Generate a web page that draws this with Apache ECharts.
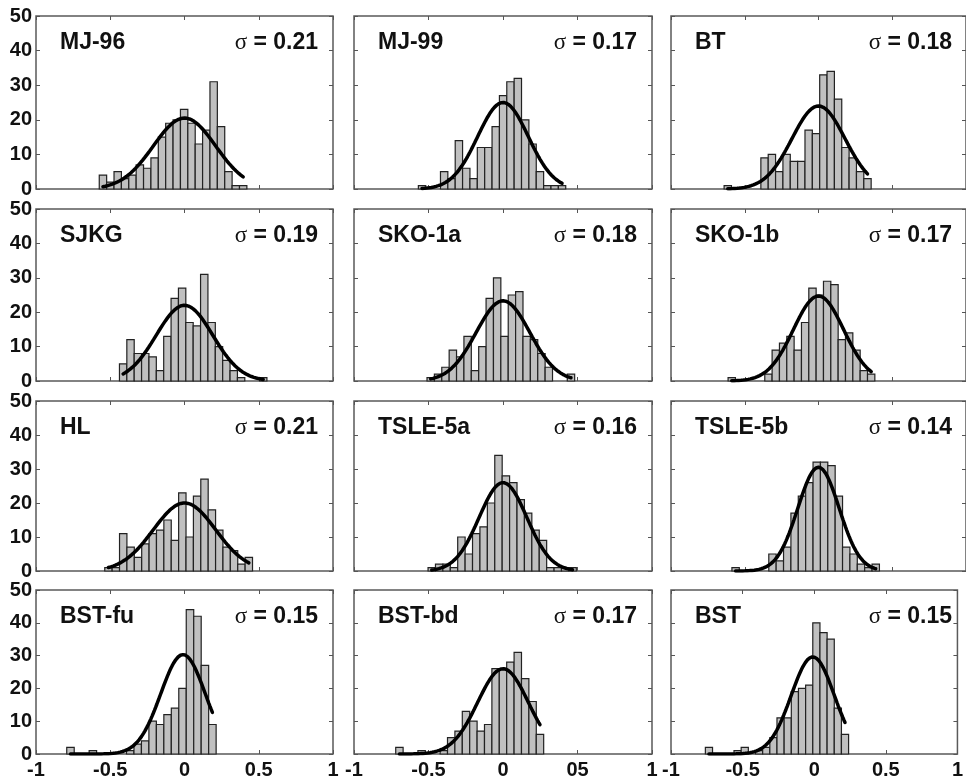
<!DOCTYPE html>
<html>
<head>
<meta charset="utf-8">
<script src="https://cdn.jsdelivr.net/npm/echarts@6/dist/echarts.min.js"></script>
<style>
  html, body { margin: 0; padding: 0; background: #fff; overflow: hidden; }
  #chart { width: 966px; height: 780px; }
</style>
</head>
<body>
<div id="chart"></div>
<script>
// Residual histograms (20 bins each) with fitted normal curves
const panelNames = ['MJ-96', 'MJ-99', 'BT', 'SJKG', 'SKO-1a', 'SKO-1b',
                    'HL', 'TSLE-5a', 'TSLE-5b', 'BST-fu', 'BST-bd', 'BST'];
const sigmas = [0.21, 0.17, 0.18, 0.19, 0.18, 0.17, 0.21, 0.16, 0.14, 0.15, 0.17, 0.15];

// histogram range: left edge of first bin, right edge of last bin
const binStart = [-0.574, -0.568, -0.640, -0.438, -0.510, -0.613, -0.537, -0.503, -0.587, -0.793, -0.720, -0.760];
const binEnd   = [ 0.420,  0.421,  0.357,  0.555,  0.481,  0.382,  0.458,  0.492,  0.413,  0.213,  0.273,  0.240];

// bin counts
const countsMJ96   = [4, 2, 5, 3, 4, 7, 6, 9, 15, 19, 20, 23, 19, 13, 17, 31, 18, 5, 1, 1];
const countsMJ99   = [1, 0, 0, 5, 3, 14, 6, 3, 12, 12, 18, 27, 31, 32, 20, 13, 5, 1, 1, 1];
const countsBT     = [1, 0, 0, 0, 0, 9, 10, 5, 10, 8, 8, 17, 16, 33, 34, 26, 12, 9, 5, 3];
const countsSJKG   = [5, 12, 8, 8, 7, 3, 13, 24, 27, 17, 16, 31, 17, 10, 6, 3, 1, 0, 0, 1];
const countsSKO1a  = [1, 2, 4, 9, 7, 13, 3, 10, 24, 30, 13, 25, 26, 13, 12, 8, 4, 0, 0, 2];
const countsSKO1b  = [1, 0, 0, 0, 0, 2, 9, 11, 13, 9, 17, 27, 25, 29, 28, 12, 14, 9, 3, 2];
const countsHL     = [1, 1, 11, 7, 4, 8, 11, 12, 15, 9, 23, 10, 22, 27, 18, 12, 7, 6, 2, 4];
const countsTSLE5a = [1, 2, 2, 1, 10, 5, 11, 13, 20, 34, 28, 26, 21, 17, 12, 9, 1, 1, 1, 1];
const countsTSLE5b = [1, 0, 0, 0, 0, 5, 3, 7, 17, 22, 26, 32, 32, 31, 22, 7, 5, 2, 1, 2];
const countsBSTfu  = [2, 0, 0, 1, 0, 0, 0, 0, 1, 3, 4, 10, 9, 12, 14, 20, 44, 42, 27, 9];
const countsBSTbd  = [2, 0, 0, 1, 0, 0, 1, 5, 7, 13, 10, 7, 9, 26, 26, 28, 31, 23, 16, 6];
const countsBST    = [2, 0, 0, 0, 1, 2, 0, 1, 2, 5, 11, 11, 19, 20, 21, 40, 37, 35, 14, 6];
const allCounts = [countsMJ96, countsMJ99, countsBT, countsSJKG, countsSKO1a, countsSKO1b,
                   countsHL, countsTSLE5a, countsTSLE5b, countsBSTfu, countsBSTbd, countsBST];

// fitted normal curve: centre and peak height
const fitMean = [0.0, 0.0, 0.0, 0.0, 0.0, 0.0, 0.0, 0.0, 0.0, -0.01, 0.0, -0.01];
const fitPeak = [20.5, 25, 24, 22, 23.3, 24.7, 20, 26, 30.5, 30.3, 26, 29.6];

// tick labels
const xTickLabelsByCol = [
  ['-1', '-0.5', '0', '0.5', '1'],
  ['-1', '-0.5', '0', '05', '1'],
  ['-1', '-0.5', '0', '0.5', '1']
];
const yTicks = [0, 10, 20, 30, 40, 50];

// layout
const colLeft = [36, 354, 671];
const colWidth = [297, 298, 296];
const rowTop = [16, 209, 401, 590];
const rowHeight = [173, 172, 170, 168];

const FONT = '"Liberation Sans", Arial, sans-serif';
const tickStyle = { inside: true, length: 4, lineStyle: { color: '#555', width: 1 } };
const hiddenLine = { show: false, onZero: false };

const grids = [], xAxes = [], yAxes = [], series = [], graphics = [];

for (let i = 0; i < 12; i++) {
  const r = Math.floor(i / 3), c = i % 3;
  grids.push({
    left: colLeft[c], top: rowTop[r], width: colWidth[c], height: rowHeight[r],
    show: true, backgroundColor: '#fff', borderColor: '#5a5a5a', borderWidth: 1.5
  });
  const labels = xTickLabelsByCol[c];
  xAxes.push({
    gridIndex: i, type: 'value', min: -1, max: 1, interval: 0.5, position: 'bottom',
    axisLine: hiddenLine, axisTick: tickStyle, splitLine: { show: false },
    axisLabel: {
      show: r === 3, margin: 6, fontFamily: FONT, fontWeight: 'bold', fontSize: 20, color: '#111',
      formatter: v => labels[Math.round((v + 1) / 0.5)]
    }
  });
  xAxes.push({
    gridIndex: i, type: 'value', min: -1, max: 1, interval: 0.5, position: 'top',
    axisLine: hiddenLine, axisTick: tickStyle, splitLine: { show: false },
    axisLabel: { show: false }
  });
  yAxes.push({
    gridIndex: i, type: 'value', min: yTicks[0], max: yTicks[yTicks.length - 1], interval: 10,
    position: 'left',
    axisLine: hiddenLine, axisTick: tickStyle, splitLine: { show: false },
    axisLabel: {
      show: c === 0, margin: 4, fontFamily: FONT, fontWeight: 'bold', fontSize: 20, color: '#111'
    }
  });
  yAxes.push({
    gridIndex: i, type: 'value', min: 0, max: 50, interval: 10, position: 'right',
    axisLine: hiddenLine, axisTick: tickStyle, splitLine: { show: false },
    axisLabel: { show: false }
  });

  const counts = allCounts[i];
  const w = (binEnd[i] - binStart[i]) / counts.length;
  const barData = counts.map((n, k) => [binStart[i] + k * w, binStart[i] + (k + 1) * w, n]);

  series.push({
    type: 'custom', xAxisIndex: 2 * i, yAxisIndex: 2 * i,
    data: barData, encode: { x: [0, 1], y: 2 }, z: 2, silent: true,
    renderItem: (params, api) => {
      if (api.value(2) <= 0) return null;
      const a = api.coord([api.value(0), api.value(2)]);
      const b = api.coord([api.value(1), 0]);
      return {
        type: 'rect',
        shape: { x: a[0], y: a[1], width: b[0] - a[0], height: b[1] - a[1] },
        style: { fill: '#c0c0c0', stroke: '#222', lineWidth: 1.2 }
      };
    }
  });

  // normal curve over the span of the bin centres
  const lo = binStart[i] + w / 2, hi = binEnd[i] - w / 2;
  const s = sigmas[i], mu = fitMean[i], pk = fitPeak[i];
  const curve = [];
  const steps = 120;
  for (let j = 0; j <= steps; j++) {
    const x = lo + (hi - lo) * j / steps;
    curve.push([x, pk * Math.exp(-((x - mu) * (x - mu)) / (2 * s * s))]);
  }
  series.push({
    type: 'line', xAxisIndex: 2 * i, yAxisIndex: 2 * i, data: curve,
    showSymbol: false, smooth: false, z: 3, silent: true,
    lineStyle: { color: '#000', width: 3.5, cap: 'round' }
  });

  graphics.push({
    type: 'text', x: colLeft[c] + 24, y: rowTop[r] + 27, z: 10,
    style: {
      text: panelNames[i], font: 'bold 23px ' + FONT, fill: '#111',
      align: 'left', verticalAlign: 'middle'
    }
  });
  graphics.push({
    type: 'text', x: colLeft[c] + colWidth[c] - 15, y: rowTop[r] + 27, z: 10,
    style: {
      text: '{g|σ} = ' + sigmas[i].toFixed(2), font: 'bold 23px ' + FONT, fill: '#111',
      align: 'right', verticalAlign: 'middle',
      rich: { g: { font: '23px "Liberation Serif", "DejaVu Serif", serif', fill: '#111' } }
    }
  });
}

const chart = echarts.init(document.getElementById('chart'), null, { renderer: 'canvas' });
chart.setOption({
  backgroundColor: '#fff',
  animation: false,
  grid: grids,
  xAxis: xAxes,
  yAxis: yAxes,
  series: series,
  graphic: graphics
});
</script>
</body>
</html>
